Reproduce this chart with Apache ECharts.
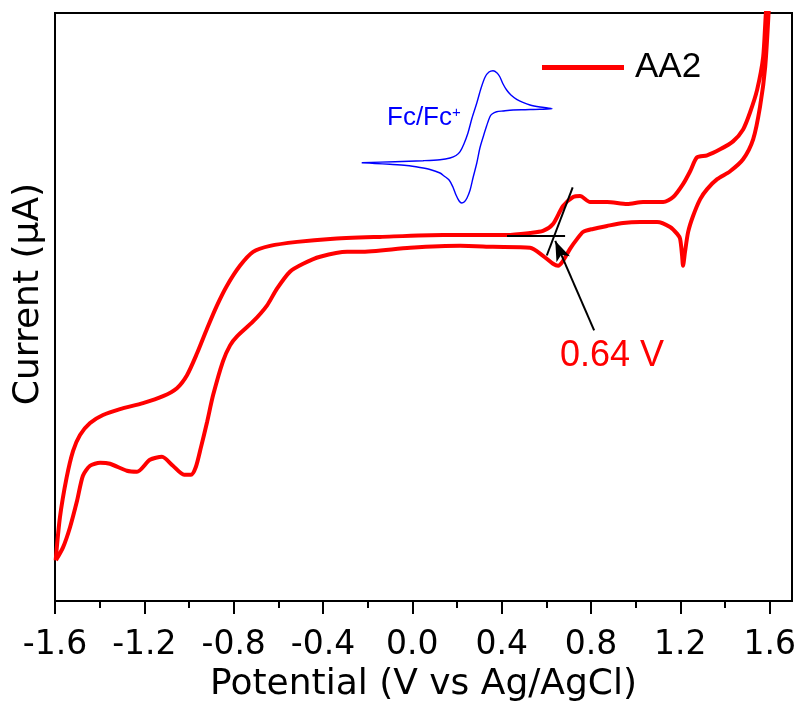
<!DOCTYPE html>
<html>
<head>
<meta charset="utf-8">
<script src="https://cdn.jsdelivr.net/npm/echarts@6/dist/echarts.min.js"></script>
<style>html,body{margin:0;padding:0;background:#fff;}#chart{width:801px;height:708px;}</style>
</head>
<body>
<div id="chart"></div>
<script>
// X tick labels (V vs Ag/AgCl)
const majorTicks = [-1.6, -1.2, -0.8, -0.4, 0.0, 0.4, 0.8, 1.2, 1.6];
const minorTicks = [-1.4, -1.0, -0.6, -0.2, 0.2, 0.6, 1.0, 1.4];

// AA2 cyclic voltammogram, forward scan (V, µA, arbitrary offset)
const aa2FwdE = [-1.597,-1.578,-1.548,-1.519,-1.488,-1.443,-1.385,-1.309,-1.206,-1.116,-1.054,-1.009,-0.964,-0.919,-0.875,-0.830,-0.772,-0.713,-0.637,-0.516,-0.368,-0.145,0.138,0.424,0.527,0.585,0.630,0.675,0.720,0.751,0.796,0.872,0.962,1.033,1.123,1.168,1.212,1.244,1.275,1.320,1.378,1.436,1.481,1.512,1.544,1.571,1.588];
const aa2FwdI = [-32.3,-28.0,-24.0,-21.3,-19.7,-18.5,-17.7,-17.1,-16.5,-15.8,-15.0,-13.7,-11.5,-9.0,-6.7,-4.7,-2.7,-1.3,-0.7,-0.3,0.0,0.2,0.4,0.4,0.6,0.8,1.5,3.3,4.2,4.3,3.7,3.7,3.5,3.7,3.7,4.2,5.5,6.8,8.2,8.4,9.0,9.8,11.0,12.7,15.0,18.3,23.5];
// AA2 reverse scan
const aa2RevE = [1.597,1.580,1.557,1.526,1.481,1.423,1.365,1.320,1.289,1.257,1.235,1.221,1.212,1.208,1.199,1.186,1.154,1.096,1.020,0.944,0.872,0.809,0.765,0.738,0.706,0.675,0.653,0.630,0.585,0.527,0.361,0.214,-0.010,-0.234,-0.292,-0.413,-0.489,-0.548,-0.606,-0.651,-0.713,-0.785,-0.816,-0.848,-0.892,-0.919,-0.946,-0.969,-0.991,-1.022,-1.072,-1.121,-1.175,-1.233,-1.278,-1.354,-1.398,-1.443,-1.475,-1.501,-1.533,-1.564,-1.596];
const aa2RevI = [23.5,17.3,13.3,10.0,8.0,6.8,6.0,5.0,4.0,2.3,0.7,-1.3,-2.7,-1.7,0.0,0.5,1.2,1.7,1.7,1.6,1.3,1.0,0.7,0.0,-1.0,-2.2,-2.7,-2.5,-1.7,-0.9,-0.8,-0.7,-0.9,-1.3,-1.3,-1.8,-2.5,-3.3,-5.0,-6.7,-8.3,-9.8,-10.7,-12.3,-15.7,-18.4,-20.9,-22.9,-23.7,-23.7,-22.8,-21.9,-22.2,-23.4,-23.3,-22.6,-22.5,-22.8,-23.8,-26.3,-29.0,-31.0,-32.3];

// Fc/Fc+ inset CV (relative potential, normalised current)
const fcFwdE = [0.003,0.142,0.260,0.331,0.373,0.398,0.415,0.431,0.448,0.465,0.485,0.503,0.520,0.536,0.553,0.570,0.582,0.595,0.610,0.628,0.652,0.678,0.708,0.750,0.800];
const fcFwdI = [-0.373,-0.359,-0.344,-0.329,-0.304,-0.267,-0.210,-0.096,0.067,0.289,0.511,0.733,0.896,0.970,0.990,0.956,0.896,0.793,0.704,0.630,0.566,0.519,0.481,0.452,0.427];
const fcRevE = [0.750,0.687,0.637,0.595,0.568,0.549,0.540,0.526,0.512,0.498,0.485,0.469,0.457,0.444,0.432,0.422,0.411,0.398,0.385,0.369,0.348,0.331,0.289,0.247,0.191,0.121,0.059,0.003];
const fcRevI = [0.418,0.412,0.407,0.393,0.382,0.348,0.308,0.170,0.012,-0.156,-0.378,-0.600,-0.778,-0.896,-0.956,-0.970,-0.941,-0.852,-0.733,-0.630,-0.570,-0.526,-0.474,-0.444,-0.415,-0.397,-0.385,-0.373];

// Onset tangent construction
const baselineTangent = [[0.424, 0.27], [0.684, 0.27]];
const riseTangent = [[0.602, -1.67], [0.718, 5.17]];
const onsetArrow = [[0.814, -9.2], [0.640, -0.2]];
const onsetLabel = '0.64 V';

const zip = (a, b) => a.map((v, i) => [v, b[i]]);
const aa2Data = zip(aa2FwdE, aa2FwdI).concat(zip(aa2RevE, aa2RevI));
const fcData = zip(fcFwdE, fcFwdI).concat(zip(fcRevE, fcRevI));

const axisFont = 'DejaVu Sans';
const annFont = 'Liberation Sans';

const chart = echarts.init(document.getElementById('chart'), null, {renderer: 'canvas'});
chart.setOption({
  animation: false,
  backgroundColor: '#ffffff',
  grid: [
    {left: 55, top: 13, right: 9, bottom: 104, show: true, borderColor: '#000', borderWidth: 2, backgroundColor: 'transparent'},
    {left: 361, top: 70, width: 191, height: 135, show: false}
  ],
  xAxis: [
    {
      type: 'value', gridIndex: 0, min: -1.6, max: 1.7, position: 'bottom',
      name: 'Potential (V vs Ag/AgCl)', nameLocation: 'middle', nameGap: 64,
      nameTextStyle: {fontFamily: axisFont, fontSize: 36, color: '#000'},
      axisLine: {show: true, onZero: false, lineStyle: {color: '#000', width: 2}},
      axisTick: {show: true, inside: false, length: 13, lineStyle: {color: '#000', width: 2}, customValues: majorTicks},
      axisLabel: {show: true, customValues: majorTicks, fontFamily: axisFont, fontSize: 33, color: '#000', margin: 28,
        formatter: v => Number(v).toFixed(1)},
      splitLine: {show: false}
    },
    {
      type: 'value', gridIndex: 0, min: -1.6, max: 1.7, position: 'bottom',
      axisLine: {show: false, onZero: false},
      axisTick: {show: true, inside: false, length: 7, lineStyle: {color: '#000', width: 2}, customValues: minorTicks},
      axisLabel: {show: false},
      splitLine: {show: false}
    },
    {type: 'value', gridIndex: 1, min: 0, max: 0.8, show: false}
  ],
  yAxis: [
    {
      type: 'value', gridIndex: 0, min: -36.4, max: 22.7, position: 'left',
      name: 'Current (μA)', nameLocation: 'middle', nameGap: 8,
      nameTextStyle: {fontFamily: axisFont, fontSize: 36, color: '#000', padding: [0, 0, 0, 26]},
      axisLine: {show: true, onZero: false, lineStyle: {color: '#000', width: 2}},
      axisTick: {show: false}, axisLabel: {show: false}, splitLine: {show: false}
    },
    {type: 'value', gridIndex: 1, min: -1, max: 1, show: false}
  ],
  legend: {
    data: ['AA2'], left: 542, top: 50, padding: 0,
    icon: 'rect', itemWidth: 82, itemHeight: 5,
    textStyle: {fontFamily: annFont, fontSize: 35, color: '#000', padding: [0, 0, 0, 6]},
    selectedMode: false
  },
  series: [
    {
      name: 'AA2', type: 'line', xAxisIndex: 0, yAxisIndex: 0,
      data: aa2Data, showSymbol: false, symbol: 'none', smooth: 0.25,
      lineStyle: {color: '#ff0000', width: 4}, itemStyle: {color: '#ff0000'},
      clip: true, silent: true, z: 3,
      markLine: {
        silent: true, symbol: ['none', 'none'], animation: false,
        label: {show: false}, emphasis: {disabled: true},
        lineStyle: {color: '#000', width: 2, type: 'solid'},
        data: [
          [{coord: baselineTangent[0]}, {coord: baselineTangent[1]}],
          [{coord: riseTangent[0]}, {coord: riseTangent[1]}],
          [{coord: onsetArrow[0], symbol: 'none'}, {coord: onsetArrow[1], symbol: 'arrow', symbolSize: [11, 20]}]
        ]
      }
    },
    {
      name: 'Fc/Fc+', type: 'line', xAxisIndex: 2, yAxisIndex: 1,
      data: fcData, showSymbol: false, symbol: 'none', smooth: 0.3,
      lineStyle: {color: '#0000ff', width: 1.4}, silent: true, z: 2
    }
  ],
  graphic: [
    {
      type: 'text', left: 560, top: 338, silent: true,
      style: {text: onsetLabel, fill: '#ff0000', font: '36px "Liberation Sans"'}
    },
    {
      type: 'text', left: 387, top: 105, silent: true,
      style: {
        text: '{a|Fc/Fc}{b|+}',
        rich: {
          a: {fontFamily: annFont, fontSize: 26, fill: '#0000ff', color: '#0000ff'},
          b: {fontFamily: annFont, fontSize: 15, fill: '#0000ff', color: '#0000ff', verticalAlign: 'top'}
        }
      }
    }
  ]
});
</script>
</body>
</html>
